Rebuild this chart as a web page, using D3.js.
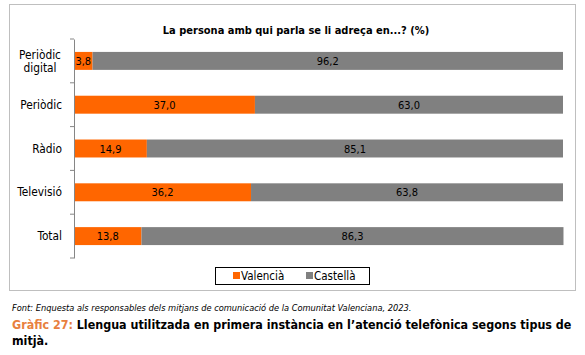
<!DOCTYPE html>
<html><head><meta charset="utf-8">
<script src="https://cdn.jsdelivr.net/npm/d3@7"></script>
<style>body{margin:0;background:#fff}svg{display:block}</style>
</head><body>
<script>
const categories = ["Periòdic digital", "Periòdic", "Ràdio", "Televisió", "Total"];
const valencia = [3.8, 37.0, 14.9, 36.2, 13.8];
const castella = [96.2, 63.0, 85.1, 63.8, 86.3];
const seriesNames = ["Valencià", "Castellà"];
const colors = ["#FF6600", "#808080"];
const title = "La persona amb qui parla se li adreça en...? (%)";
const source = "Font: Enquesta als responsables dels mitjans de comunicació de la Comunitat Valenciana, 2023.";
const captionLabel = "Gràfic 27:";
const captionText1 = " Llengua utilitzada en primera instància en l’atenció telefònica segons tipus de";
const captionText2 = "mitjà.";

const W = 585, H = 355;
const font = "'DejaVu Sans Condensed', 'DejaVu Sans', sans-serif";
const svg = d3.select("body").append("svg").attr("width", W).attr("height", H)
  .style("font-family", font);

// chart border
svg.append("rect").attr("x", 9.5).attr("y", 4.5).attr("width", 566).attr("height", 286)
  .attr("fill", "#fff").attr("stroke", "#bfbfbf").attr("stroke-width", 1);

svg.append("text").attr("x", 296).attr("y", 34).attr("text-anchor", "middle")
  .attr("font-size", 11).attr("font-weight", "bold").attr("fill", "#000").text(title);

const x = d3.scaleLinear().domain([0, 100]).range([74, 563]);
const y = d3.scaleBand().domain(categories).range([39, 258]).paddingInner(0.59).paddingOuter(0.295);

const data = categories.map((c, i) => ({cat: c, vals: [valencia[i], castella[i]]}));

const g = svg.append("g");
data.forEach(d => {
  let start = 0;
  d.vals.forEach((v, k) => {
    g.append("rect").attr("x", x(start)).attr("y", y(d.cat))
      .attr("width", x(start + v) - x(start)).attr("height", y.bandwidth())
      .attr("fill", colors[k]);
    g.append("text").attr("x", (x(start) + x(start + v)) / 2)
      .attr("y", y(d.cat) + y.bandwidth() / 2 + 4)
      .attr("text-anchor", "middle").attr("font-size", 11).attr("fill", "#000")
      .text(d3.format(".1f")(v).replace(".", ","));
    start += v;
  });
});

// axis
const yAxis = d3.axisLeft(y).tickSize(0).tickFormat("");
const ax = svg.append("g").attr("transform", "translate(74,0)").call(yAxis);
ax.select(".domain").attr("stroke", "#868686");
// boundary ticks
const bounds = d3.range(categories.length + 1).map(i => 39 + i * (258 - 39) / categories.length);
svg.append("g").selectAll("line").data(bounds).join("line")
  .attr("x1", 70).attr("x2", 74).attr("y1", d => d).attr("y2", d => d)
  .attr("stroke", "#868686");

// category labels
data.forEach(d => {
  const cy = y(d.cat) + y.bandwidth() / 2;
  const t = svg.append("text").attr("text-anchor", "middle").attr("font-size", 11.8).attr("fill", "#000");
  if (d.cat === "Periòdic digital") {
    t.append("tspan").attr("x", 40).attr("y", cy - 2).text("Periòdic");
    t.append("tspan").attr("x", 40).attr("y", cy + 11).text("digital");
  } else {
    t.attr("text-anchor", "end").attr("x", 62).attr("y", cy + 4).text(d.cat);
  }
});

// legend
const lg = svg.append("g");
lg.append("rect").attr("x", 215.5).attr("y", 267.5).attr("width", 154).attr("height", 17)
  .attr("fill", "#fff").attr("stroke", "#000");
const legX = [233, 306];
seriesNames.forEach((n, k) => {
  lg.append("rect").attr("x", legX[k]).attr("y", 272).attr("width", 7).attr("height", 7).attr("fill", colors[k]);
  lg.append("text").attr("x", legX[k] + 8).attr("y", 280).attr("font-size", 11.5).attr("fill", "#000").text(n);
});

// footer
svg.append("text").attr("x", 12).attr("y", 311).attr("font-size", 9.2).attr("font-style", "italic")
  .attr("fill", "#000").text(source);
const cap = svg.append("text").attr("x", 12).attr("y", 329).attr("font-size", 12.4).attr("font-weight", "bold");
cap.append("tspan").attr("fill", "#E8803E").text(captionLabel);
cap.append("tspan").attr("fill", "#000").text(captionText1);
svg.append("text").attr("x", 12).attr("y", 345).attr("font-size", 12.4).attr("font-weight", "bold")
  .attr("fill", "#000").text(captionText2);
</script>
</body></html>
